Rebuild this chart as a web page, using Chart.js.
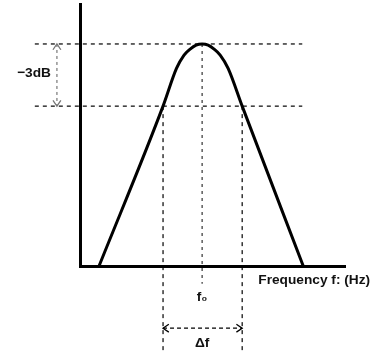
<!DOCTYPE html>
<html>
<head>
<meta charset="utf-8">
<script src="https://cdn.jsdelivr.net/npm/chart.js@4/dist/chart.umd.min.js"></script>
<style>
    html, body { margin: 0; padding: 0; background: #fff; }
    canvas { display: block; }
</style>
</head>
<body>
<canvas id="bandpass" width="373" height="351"></canvas>
<script>
// Response curve (x: frequency units, y: relative amplitude)
const freq = [1.56, 6.8, 7.9, 8.52, 9.02, 9.51, 10.0, 10.49, 10.98, 11.48, 12.13, 13.28, 18.28];
const response = [0, 0.72, 0.89, 0.95, 0.977, 0.995, 1, 0.995, 0.977, 0.95, 0.89, 0.72, 0];

// Marker values
const f0 = 10.0;
const bandEdges = [6.8, 13.28];
const peakLevel = 1.0;
const halfPowerLevel = 0.72;
const guideRange = [-3.7, 18.2];
const edgeLineBottom = -0.4;
const f0LineBottom = -0.08;
const deltaArrowLevel = -0.28;
const dbArrowFreq = -1.89;

// Axis extents
const freqRange = [0, 21.7];
const levelRange = [0, 1.18];

// Text labels: [text, x, y, align]
const labelTexts = [
    ['\u22123dB', -3.77, 0.87, 'center'],
    ['Frequency f: (Hz)', 14.6, -0.063, 'left'],
    ['f\u2080', f0, -0.14, 'center'],
    ['\u0394f', f0, -0.347, 'center']
];

const pts = (xs, ys) => xs.map((x, i) => ({ x, y: ys[i] }));

const dashed = (data, color, dash, extra = {}) => Object.assign({
    data,
    borderColor: color,
    borderWidth: 1.2,
    borderDash: dash,
    pointRadius: 0,
    tension: 0,
    clip: false
}, extra);

const arrowHeads = {
    id: 'arrowHeads',
    afterDatasetsDraw(chart) {
        const ctx = chart.ctx;
        chart.data.datasets.forEach((ds, i) => {
            if (!ds.arrow) return;
            const els = chart.getDatasetMeta(i).data;
            const a = els[0], b = els[els.length - 1];
            const ang = Math.atan2(b.y - a.y, b.x - a.x);
            const size = 7;
            ctx.save();
            ctx.strokeStyle = ds.borderColor;
            ctx.lineWidth = 1.3;
            [[a, ang + Math.PI], [b, ang]].forEach(([p, dir]) => {
                ctx.beginPath();
                ctx.moveTo(p.x - size * Math.cos(dir - 0.6), p.y - size * Math.sin(dir - 0.6));
                ctx.lineTo(p.x, p.y);
                ctx.lineTo(p.x - size * Math.cos(dir + 0.6), p.y - size * Math.sin(dir + 0.6));
                ctx.stroke();
            });
            ctx.restore();
        });
    }
};

const textLabels = {
    id: 'textLabels',
    afterDraw(chart) {
        const ctx = chart.ctx;
        const xs = chart.scales.x, ys = chart.scales.y;
        ctx.save();
        ctx.fillStyle = '#111';
        ctx.font = 'bold 13.7px "Liberation Sans", Arial, sans-serif';
        ctx.textBaseline = 'middle';
        labelTexts.forEach(([text, x, y, align]) => {
            ctx.textAlign = align;
            ctx.fillText(text, xs.getPixelForValue(x), ys.getPixelForValue(y));
        });
        ctx.restore();
    }
};

const ctx = document.getElementById('bandpass').getContext('2d');
new Chart(ctx, {
    type: 'line',
    data: {
        datasets: [
            {
                data: pts(freq, response),
                borderColor: '#000',
                borderWidth: 3,
                pointRadius: 0,
                cubicInterpolationMode: 'monotone',
                clip: false
            },
            dashed(pts(guideRange, [peakLevel, peakLevel]), '#000', [4, 4]),
            dashed(pts(guideRange, [halfPowerLevel, halfPowerLevel]), '#000', [4, 4]),
            dashed(pts([f0, f0], [peakLevel, f0LineBottom]), '#333', [3, 4]),
            dashed(pts([bandEdges[0], bandEdges[0]], [halfPowerLevel, edgeLineBottom]), '#000', [4, 4]),
            dashed(pts([bandEdges[1], bandEdges[1]], [halfPowerLevel, edgeLineBottom]), '#000', [4, 4]),
            dashed(pts([dbArrowFreq, dbArrowFreq], [peakLevel, halfPowerLevel]), '#777', [3, 3], { arrow: true }),
            dashed(pts(bandEdges, [deltaArrowLevel, deltaArrowLevel]), '#000', [4, 3], { arrow: true })
        ]
    },
    options: {
        responsive: false,
        animation: false,
        layout: { padding: { left: 80, right: 28, top: 4, bottom: 85 } },
        plugins: { legend: { display: false }, tooltip: { enabled: false } },
        scales: {
            x: {
                type: 'linear',
                min: freqRange[0],
                max: freqRange[1],
                grid: { display: false, drawTicks: false },
                ticks: { display: false },
                border: { display: true, color: '#000', width: 3 }
            },
            y: {
                min: levelRange[0],
                max: levelRange[1],
                grid: { display: false, drawTicks: false },
                ticks: { display: false },
                border: { display: true, color: '#000', width: 3 }
            }
        }
    },
    plugins: [arrowHeads, textLabels]
});
</script>
</body>
</html>
